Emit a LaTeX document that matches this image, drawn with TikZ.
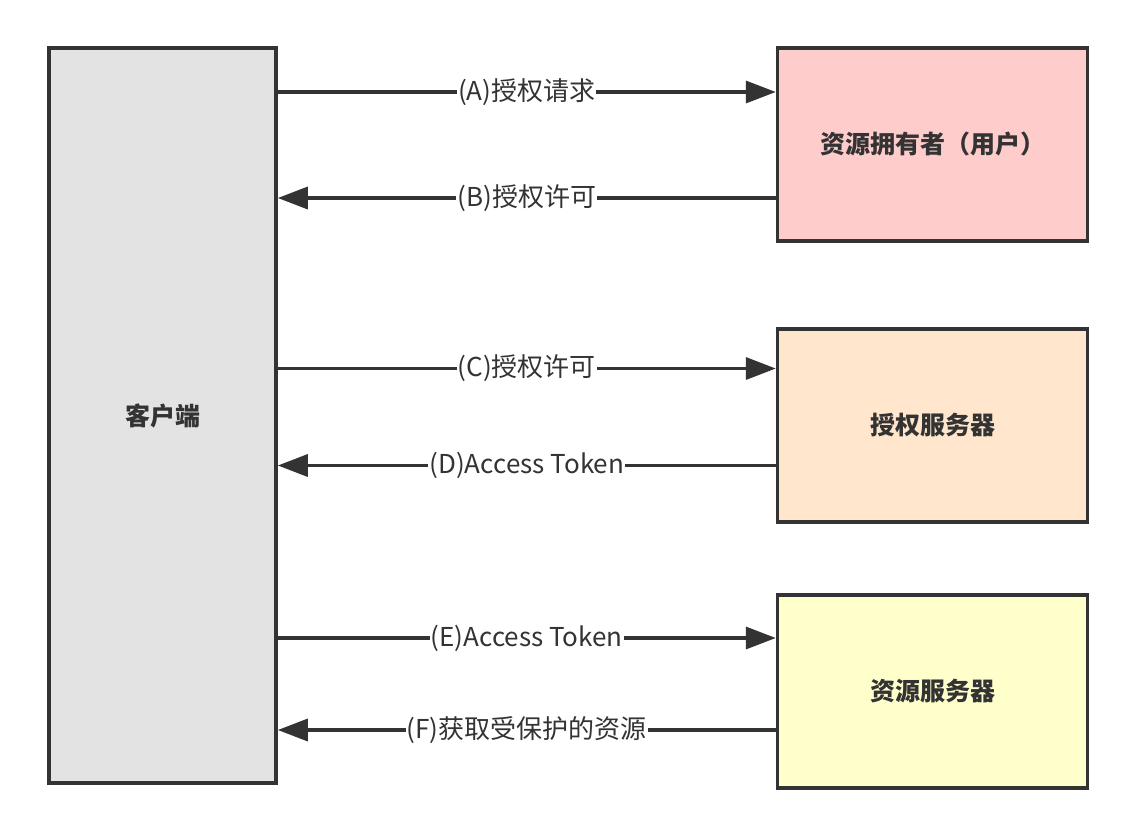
\documentclass[tikz,border=0pt]{standalone}
\usepackage{fontspec}
\setmainfont{Noto Sans CJK SC}
\usepackage{tikz}
\usetikzlibrary{
arrows.meta,
positioning
}
\definecolor{OAInk}{HTML}{333333}
\definecolor{OAClient}{HTML}{E3E3E3}
\definecolor{OAOwner}{HTML}{FFCCCC}
\definecolor{OAAuth}{HTML}{FFE6CC}
\definecolor{OAResource}{HTML}{FFFFCC}
\tikzset{
oaclient/.style={draw=OAInk, fill=OAClient, line width=1.8pt, align=center,
  minimum width=113.5pt, minimum height=367.5pt, font=\fontsize{12.5pt}{15pt}\selectfont\bfseries, text=OAInk},
oarole/.style={draw=OAInk, line width=1.8pt, align=center,
  minimum width=155pt, minimum height=96.5pt, font=\fontsize{12.5pt}{15pt}\selectfont\bfseries, text=OAInk},
oaflow/.style={-{Triangle[length=15pt, width=11pt]}, line width=1.7pt, draw=OAInk},
oalabel/.style={fill=white, inner sep=0.5pt, font=\fontsize{13pt}{15pt}\selectfont, text=OAInk}
}
\begin{document}
\begin{tikzpicture}
\useasboundingbox (0,0) rectangle (568pt,-418pt);
\node[oaclient] (client) at (81.25pt,-207.75pt) {客户端};
\node[oarole, fill=OAOwner, below right=0pt and 249pt of client.north east, anchor=north west] (owner) {资源拥有者（用户）};
\node[oarole, fill=OAAuth, below=42.2pt of owner] (auth) {授权服务器};
\node[oarole, fill=OAResource, below=34.7pt of auth] (res) {资源服务器};

\coordinate (a) at ([yshift=26.25pt]owner.west);
\coordinate (b) at ([yshift=-26.75pt]owner.west);
\coordinate (c) at ([yshift=28.5pt]auth.west);
\coordinate (d) at ([yshift=-20pt]auth.west);
\coordinate (e) at ([yshift=26.75pt]res.west);
\coordinate (f) at ([yshift=-19.25pt]res.west);

\draw[oaflow] (client.east |- a) -- node[oalabel] {(A)授权请求} (a);
\draw[oaflow] (b) -- node[oalabel] {(B)授权许可} (client.east |- b);
\draw[oaflow] (client.east |- c) -- node[oalabel] {(C)授权许可} (c);
\draw[oaflow] (d) -- node[oalabel] {(D)Access Token} (client.east |- d);
\draw[oaflow] (client.east |- e) -- node[oalabel] {(E)Access Token} (e);
\draw[oaflow] (f) -- node[oalabel] {(F)获取受保护的资源} (client.east |- f);
\end{tikzpicture}
\end{document}
